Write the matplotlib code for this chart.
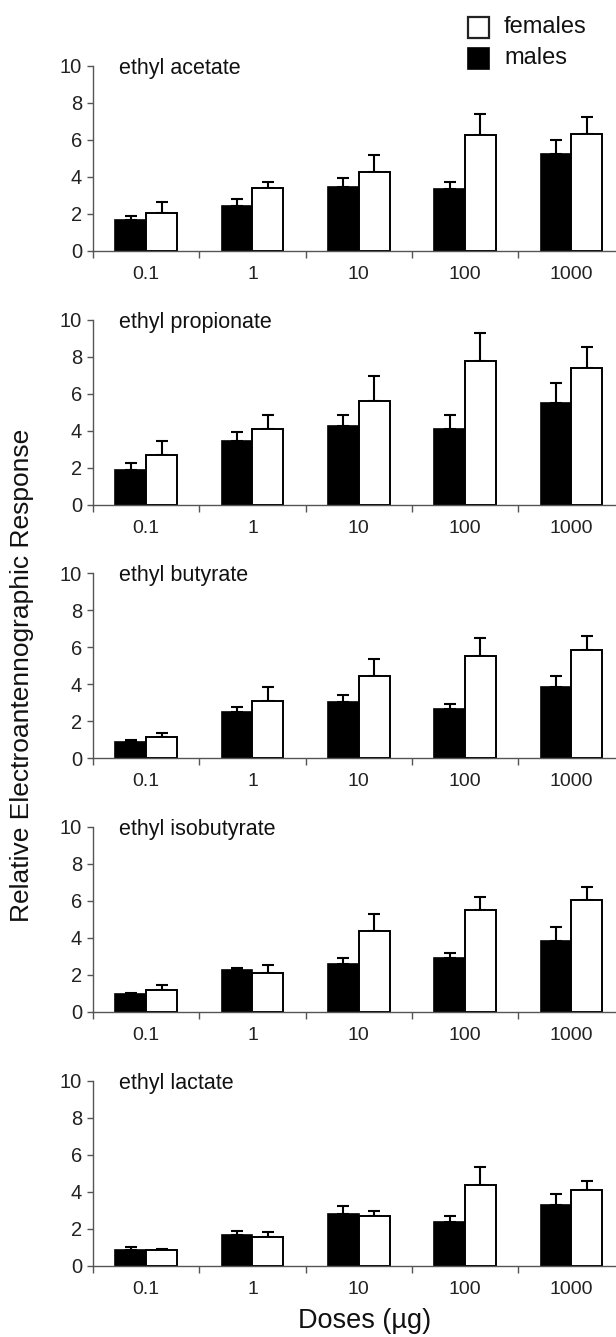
import matplotlib
matplotlib.use('Agg')
import matplotlib.pyplot as plt
import numpy as np

plt.rcParams['font.family'] = ['Liberation Sans', 'DejaVu Sans']

doses = ['0.1', '1', '10', '100', '1000']
compounds = ['ethyl acetate', 'ethyl propionate', 'ethyl butyrate',
             'ethyl isobutyrate', 'ethyl lactate']

# mean responses (males / females) and upper error bar tops, per compound
males_mean = [
    [1.66, 2.43, 3.42, 3.32, 5.21],
    [1.88, 3.41, 4.22, 4.10, 5.47],
    [0.85, 2.51, 3.05, 2.65, 3.86],
    [0.99, 2.26, 2.58, 2.92, 3.84],
    [0.85, 1.66, 2.79, 2.34, 3.26],
]
males_top = [
    [1.87, 2.77, 3.91, 3.73, 5.96],
    [2.26, 3.90, 4.82, 4.82, 6.57],
    [0.99, 2.76, 3.39, 2.94, 4.44],
    [1.03, 2.40, 2.92, 3.21, 4.60],
    [1.03, 1.87, 3.24, 2.68, 3.86],
]
females_mean = [
    [2.02, 3.41, 4.27, 6.25, 6.32],
    [2.65, 4.08, 5.61, 7.73, 7.36],
    [1.14, 3.10, 4.44, 5.51, 5.87],
    [1.21, 2.11, 4.39, 5.49, 6.06],
    [0.83, 1.53, 2.68, 4.36, 4.09],
]
females_top = [
    [2.61, 3.73, 5.17, 7.37, 7.21],
    [3.45, 4.86, 6.93, 9.28, 8.52],
    [1.35, 3.86, 5.34, 6.48, 6.59],
    [1.43, 2.56, 5.29, 6.19, 6.73],
    [0.88, 1.82, 2.97, 5.33, 4.58],
]

W, H = 616, 1337
fig = plt.figure(figsize=(W / 100, H / 100), dpi=100)

axis_col = '#555555'
left_px = 93
width_px = 531.5
height_px = 185
zero_px = [250.7, 504.5, 758.2, 1011.9, 1265.6]
bw = 0.29
x = np.arange(len(doses))

for i, name in enumerate(compounds):
    ax = fig.add_axes([left_px / W, 1 - zero_px[i] / H, width_px / W, height_px / H])
    m = np.array(males_mean[i])
    f = np.array(females_mean[i])
    me = np.array(males_top[i]) - m
    fe = np.array(females_top[i]) - f
    ax.bar(x - bw / 2, m, bw, color='black', edgecolor='black', linewidth=1.2, zorder=2)
    ax.bar(x + bw / 2, f, bw, color='white', edgecolor='black', linewidth=1.4, zorder=2)
    ax.errorbar(x - bw / 2, m, yerr=[np.zeros_like(me), me], fmt='none',
                ecolor='black', elinewidth=1.5, capsize=4.5, capthick=1.5, zorder=1)
    ax.errorbar(x + bw / 2, f, yerr=[np.zeros_like(fe), fe], fmt='none',
                ecolor='black', elinewidth=1.5, capsize=4.5, capthick=1.5, zorder=1)

    ax.set_xlim(-0.5, len(doses) - 0.5)
    ax.set_ylim(0, 10)
    ax.set_yticks([0, 2, 4, 6, 8, 10])
    ax.set_xticks(x)
    ax.set_xticklabels(doses)
    ax.set_xticks(np.arange(-0.5, len(doses), 1.0), minor=True)
    ax.tick_params(axis='x', which='major', length=0, pad=11, labelsize=14, labelcolor='#222222')
    ax.tick_params(axis='x', which='minor', length=5, width=1, color=axis_col, direction='out')
    ax.tick_params(axis='y', length=4, width=1, color=axis_col, labelsize=14.5,
                   labelcolor='#222222', pad=4)
    for s in ['top', 'right']:
        ax.spines[s].set_visible(False)
    for s in ['left', 'bottom']:
        ax.spines[s].set_color(axis_col)
        ax.spines[s].set_linewidth(1)
    ax.text((119 - left_px) / width_px, 0.985, name, transform=ax.transAxes,
            ha='left', va='center', fontsize=15.5, color='#111111')

# legend drawn as squares + text in figure pixels
fig.patches.append(plt.Rectangle((468 / W, 1 - 38 / H), 21 / W, 21 / H, transform=fig.transFigure,
                                 facecolor='white', edgecolor='#222222', linewidth=1.6))
fig.patches.append(plt.Rectangle((468 / W, 1 - 69 / H), 21 / W, 21 / H, transform=fig.transFigure,
                                 facecolor='black', edgecolor='black', linewidth=1.2))
fig.text(504 / W, 1 - 27 / H, 'females', ha='left', va='center', fontsize=17, color='#111111')
fig.text(504 / W, 1 - 58 / H, 'males', ha='left', va='center', fontsize=17, color='#111111')

fig.text(22 / W, 1 - 675 / H, 'Relative Electroantennographic Response', rotation=90,
         ha='center', va='center', fontsize=19, color='#111111')
fig.text(365 / W, 1 - 1321 / H, 'Doses (\u00b5g)', ha='center', va='center',
         fontsize=19.5, color='#111111')

plt.savefig('out.png', dpi=100)
